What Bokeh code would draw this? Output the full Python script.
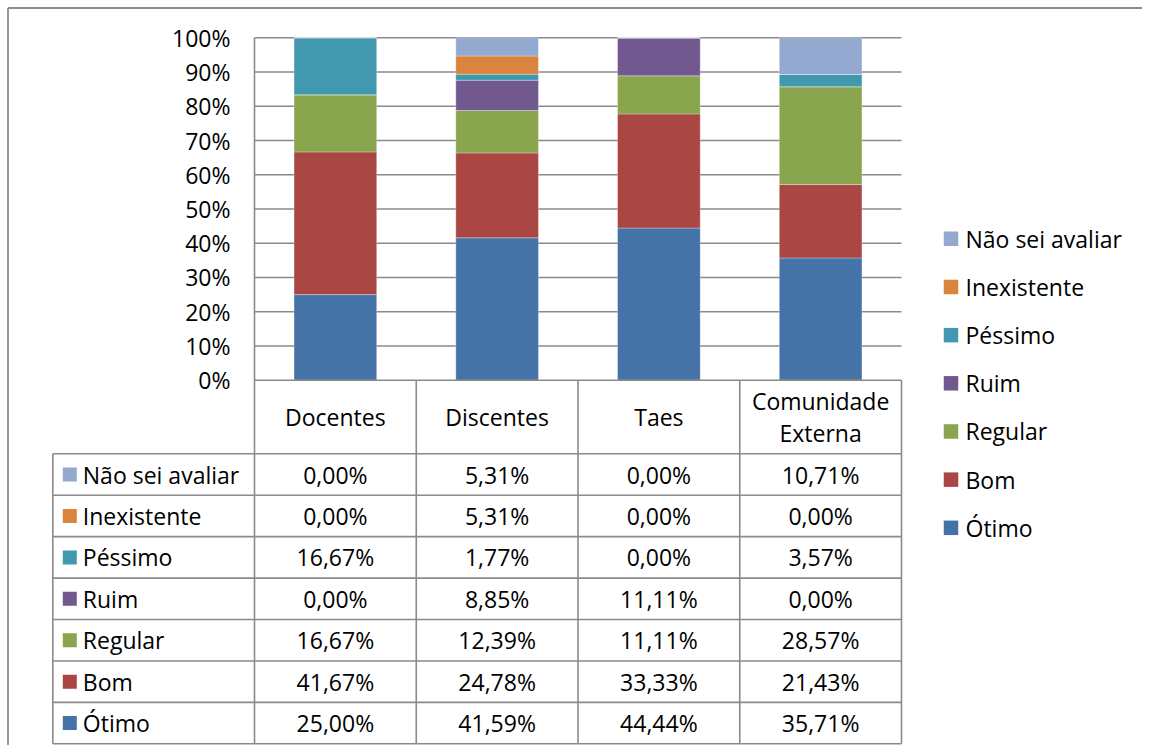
from bokeh.plotting import figure
from bokeh.models import Range1d, ColumnDataSource
from bokeh.core.properties import value
from bokeh.embed import file_html
from bokeh.resources import INLINE

# ---------------- data ----------------
categories = ["Docentes", "Discentes", "Taes", "Comunidade Externa"]
series_names = ["Ótimo", "Bom", "Regular", "Ruim", "Péssimo", "Inexistente", "Não sei avaliar"]
otimo = [25.00, 41.59, 44.44, 35.71]
bom = [41.67, 24.78, 33.33, 21.43]
regular = [16.67, 12.39, 11.11, 28.57]
ruim = [0.00, 8.85, 11.11, 0.00]
pessimo = [16.67, 1.77, 0.00, 3.57]
inexistente = [0.00, 5.31, 0.00, 0.00]
nao_sei = [0.00, 5.31, 0.00, 10.71]
y_ticks = [0, 10, 20, 30, 40, 50, 60, 70, 80, 90, 100]
y_tick_labels = ["0%", "10%", "20%", "30%", "40%", "50%", "60%", "70%", "80%", "90%", "100%"]

colors = ["#4572A7", "#AA4643", "#89A54E", "#71588F", "#4198AF", "#DB843D", "#93A9CF"]
series_values = [otimo, bom, regular, ruim, pessimo, inexistente, nao_sei]

FONT = value("Open Sans")
FS = "23px"
GRID = "#8a8a8a"

# ---------------- layout helpers (picture pixel -> data units) ----------------
OFF = 0
COL0, COLW = 254.0, 161.75
Y0, YS = 379.7, 342.4
def dx(px):
    return (px - COL0) / COLW
def dy(py):
    return (Y0 - py) / YS

W, H = 1142, 745
p = figure(width=W, height=H, output_backend="svg", toolbar_location=None,
           x_range=Range1d(dx(OFF), dx(OFF + W)), y_range=Range1d(dy(OFF + H), dy(OFF)),
           x_axis_location=None, y_axis_location=None, title=None,
           min_border=0, min_border_left=0, min_border_right=0,
           min_border_top=0, min_border_bottom=0)
p.grid.visible = False
p.outline_line_color = None
p.background_fill_color = "white"

# outer chart border (top and left visible)
p.segment(x0=[dx(7.5), dx(7.5)], y0=[dy(7.5), dy(7.5)], x1=[dx(OFF + W), dx(7.5)], y1=[dy(7.5), dy(OFF + H)],
          line_color="#8c8c8c", line_width=1.8)

# gridlines
keys = [f"s{i}" for i in range(len(series_names))]
p.segment(x0=[0] * 10, x1=[len(categories)] * 10,
          y0=[t / 100 for t in y_ticks[1:]], y1=[t / 100 for t in y_ticks[1:]],
          line_color=GRID, line_width=1.6)

# y tick labels
p.text(x=[0] * len(y_ticks), y=[t / 100 for t in y_ticks], text=y_tick_labels,
       x_offset=-24, text_align="right", text_baseline="middle",
       text_font=FONT, text_font_size=FS, text_color="#000000")

# stacked bars
data = {"x": [i + 0.5 for i in range(len(categories))]}
for k, vals in zip(keys, series_values):
    data[k] = [v / 100 for v in vals]
src = ColumnDataSource(data)
p.vbar_stack(keys, x="x", width=0.511, color=colors, source=src,
             line_color="white", line_width=0.6, line_alpha=0.5)

# ---------------- data table ----------------
ROW_TOP = 453.3
ROW_H = 41.43
TBL_LEFT = 52.3
n_rows = len(series_names)
row_lines = [dy(ROW_TOP + ROW_H * k) for k in range(n_rows + 1)]
bottom = row_lines[-1]

# horizontal lines
p.segment(x0=[0], x1=[len(categories)], y0=[0], y1=[0], line_color=GRID, line_width=1.6)
p.segment(x0=[dx(TBL_LEFT)] * len(row_lines), x1=[len(categories)] * len(row_lines),
          y0=row_lines, y1=row_lines, line_color=GRID, line_width=1.6)
# vertical lines
p.segment(x0=[0], x1=[0], y0=[1.0], y1=[bottom], line_color=GRID, line_width=1.6)
p.segment(x0=[dx(TBL_LEFT)], x1=[dx(TBL_LEFT)], y0=[row_lines[0]], y1=[bottom], line_color=GRID, line_width=1.6)
p.segment(x0=[1, 2, 3, 4], x1=[1, 2, 3, 4], y0=[0] * 4, y1=[bottom] * 4, line_color=GRID, line_width=1.6)

# header labels
hdr_y = (0 + row_lines[0]) / 2
p.text(x=[i + 0.5 for i in range(len(categories))], y=[hdr_y] * len(categories),
       text=[c.replace("Comunidade ", "Comunidade\n") for c in categories],
       text_align="center", text_baseline="middle", text_line_height=1.0,
       text_font=FONT, text_font_size=FS, text_color="#000000")

# rows: top to bottom = reversed series order
order = list(range(n_rows))[::-1]
row_centers = [(row_lines[k] + row_lines[k + 1]) / 2 for k in range(n_rows)]
p.rect(x=[dx(TBL_LEFT + 17)] * n_rows, y=row_centers, width=14, height=14,
       width_units="screen", height_units="screen",
       color=[colors[i] for i in order], line_color=None)
p.text(x=[dx(TBL_LEFT + 30)] * n_rows, y=row_centers, text=[series_names[i] for i in order],
       text_align="left", text_baseline="middle",
       text_font=FONT, text_font_size=FS, text_color="#000000")
for r, i in enumerate(order):
    vals = series_values[i]
    p.text(x=[c + 0.5 for c in range(len(categories))], y=[row_centers[r]] * len(categories),
           text=[f"{v:.2f}%".replace(".", ",") for v in vals],
           text_align="center", text_baseline="middle",
           text_font=FONT, text_font_size=FS, text_color="#000000")

# ---------------- legend (right) ----------------
LEG_TOP = 238.3
LEG_STEP = 48.17
leg_y = [dy(LEG_TOP + LEG_STEP * k) for k in range(n_rows)]
p.rect(x=[dx(950.5)] * n_rows, y=leg_y, width=14.5, height=14.5,
       width_units="screen", height_units="screen",
       color=[colors[i] for i in order], line_color=None)
p.text(x=[dx(965)] * n_rows, y=leg_y, text=[series_names[i] for i in order],
       text_align="left", text_baseline="middle",
       text_font=FONT, text_font_size=FS, text_color="#000000")

open("out.html", "w").write(file_html(p, INLINE))
